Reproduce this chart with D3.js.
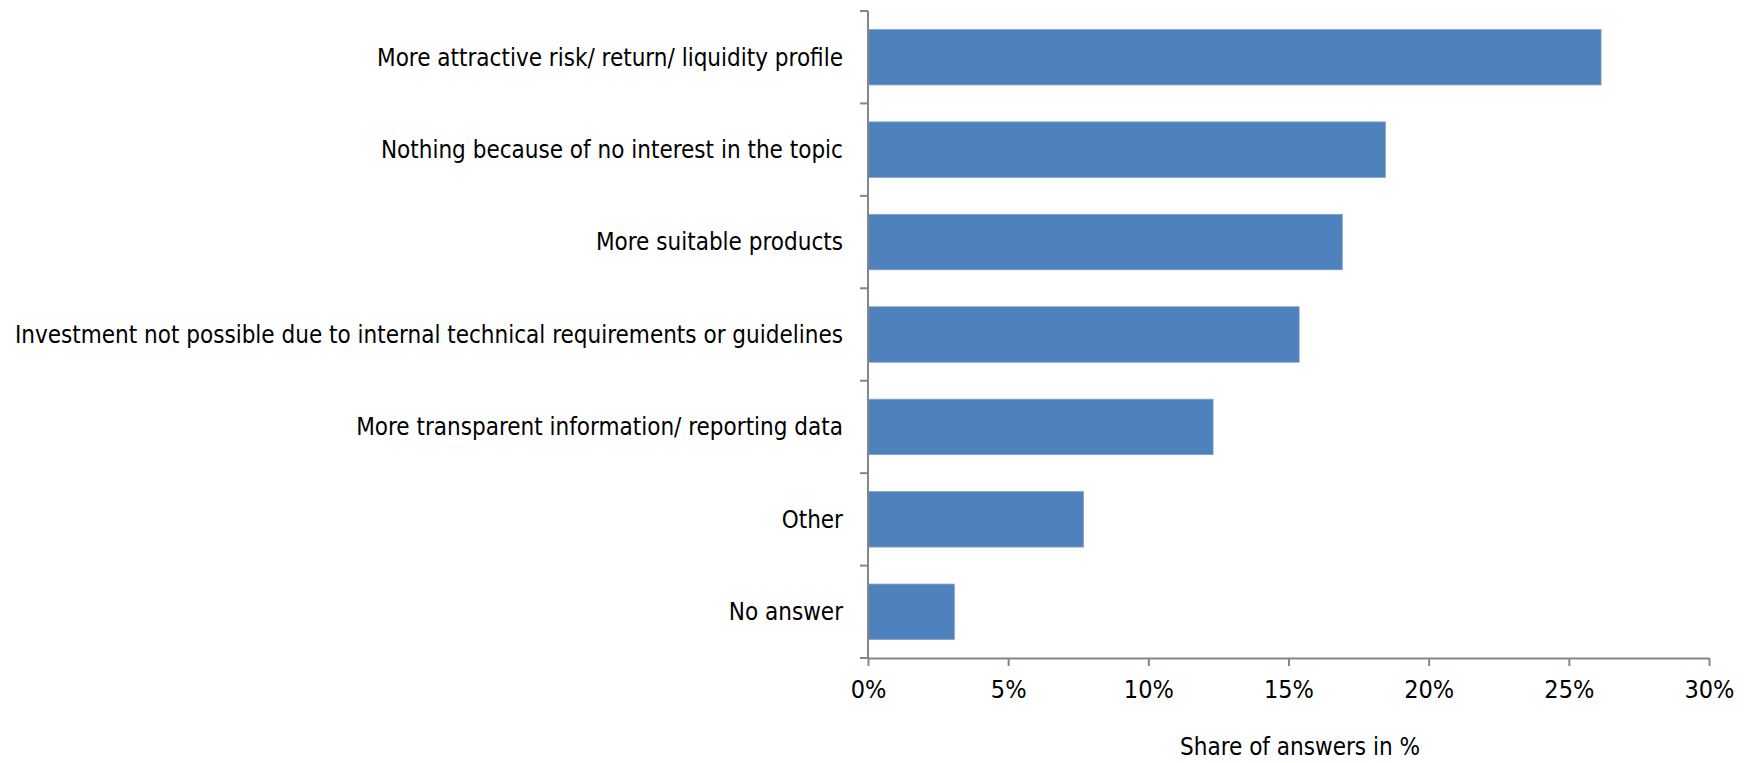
<!DOCTYPE html>
<html>
<head>
<meta charset="utf-8">
<script src="https://cdn.jsdelivr.net/npm/d3@7"></script>
<style>
  html, body { margin: 0; padding: 0; background: #ffffff; }
  svg text { font-family: "Liberation Sans Narrow", "DejaVu Sans Condensed", "Arial Narrow", sans-serif; fill: #000; }
</style>
</head>
<body>
<svg id="chart" width="1752" height="763"></svg>
<script>
// Survey answers, top to bottom
const categories = [
  "More attractive risk/ return/ liquidity profile",
  "Nothing because of no interest in the topic",
  "More suitable products",
  "Investment not possible due to internal technical requirements or guidelines",
  "More transparent information/ reporting data",
  "Other",
  "No answer"
];
// Share of answers, in percent
const shares = [26.15, 18.46, 16.92, 15.38, 12.31, 7.69, 3.08];
const xTicks = [0, 5, 10, 15, 20, 25, 30];
const xTitle = "Share of answers in %";

const svg = d3.select("#chart");
const plot = { left: 868, right: 1709, top: 11, bottom: 658 };
const axisColor = "#868686";
const barColor = "#4F81BD";

const x = d3.scaleLinear().domain([0, 30]).range([plot.left, plot.right]);
const y = d3.scaleBand().domain(categories).range([plot.top, plot.bottom])
  .paddingInner(0.4).paddingOuter(0.2);

// bars
svg.append("g").selectAll("rect")
  .data(categories)
  .join("rect")
  .attr("x", x(0))
  .attr("y", d => y(d))
  .attr("width", (d, i) => x(shares[i]) - x(0))
  .attr("height", y.bandwidth())
  .attr("fill", barColor)
  .attr("stroke", "#7FA2CF")
  .attr("stroke-width", 0.8);

// x axis
const xAxis = svg.append("g")
  .attr("transform", `translate(0,${plot.bottom})`)
  .call(d3.axisBottom(x).tickValues(xTicks).tickFormat(d => d + "%").tickSizeInner(8).tickSizeOuter(0).tickPadding(14));
xAxis.select(".domain").attr("stroke", axisColor).attr("stroke-width", 2);
xAxis.selectAll(".tick line").attr("stroke", axisColor).attr("stroke-width", 2);
xAxis.selectAll(".tick text").attr("font-size", 25).attr("fill", "#000");

// y axis: line with ticks at category boundaries
const yAxis = svg.append("g");
yAxis.append("line")
  .attr("x1", x(0)).attr("x2", x(0))
  .attr("y1", plot.top).attr("y2", plot.bottom)
  .attr("stroke", axisColor).attr("stroke-width", 2);
const bounds = d3.range(categories.length + 1).map(i => plot.top + i * y.step());
yAxis.selectAll("line.tick")
  .data(bounds)
  .join("line")
  .attr("class", "tick")
  .attr("x1", x(0) - 8).attr("x2", x(0))
  .attr("y1", d => d).attr("y2", d => d)
  .attr("stroke", axisColor).attr("stroke-width", 2);

// category labels
svg.append("g").selectAll("text")
  .data(categories)
  .join("text")
  .attr("x", x(0) - 25)
  .attr("y", d => y(d) + y.bandwidth() / 2)
  .attr("dy", "0.35em")
  .attr("text-anchor", "end")
  .attr("font-size", 24)
  .text(d => d);

// x axis title
svg.append("text")
  .attr("x", 1300)
  .attr("y", 747)
  .attr("dy", "0.35em")
  .attr("text-anchor", "middle")
  .attr("font-size", 24)
  .text(xTitle);
</script>
</body>
</html>
